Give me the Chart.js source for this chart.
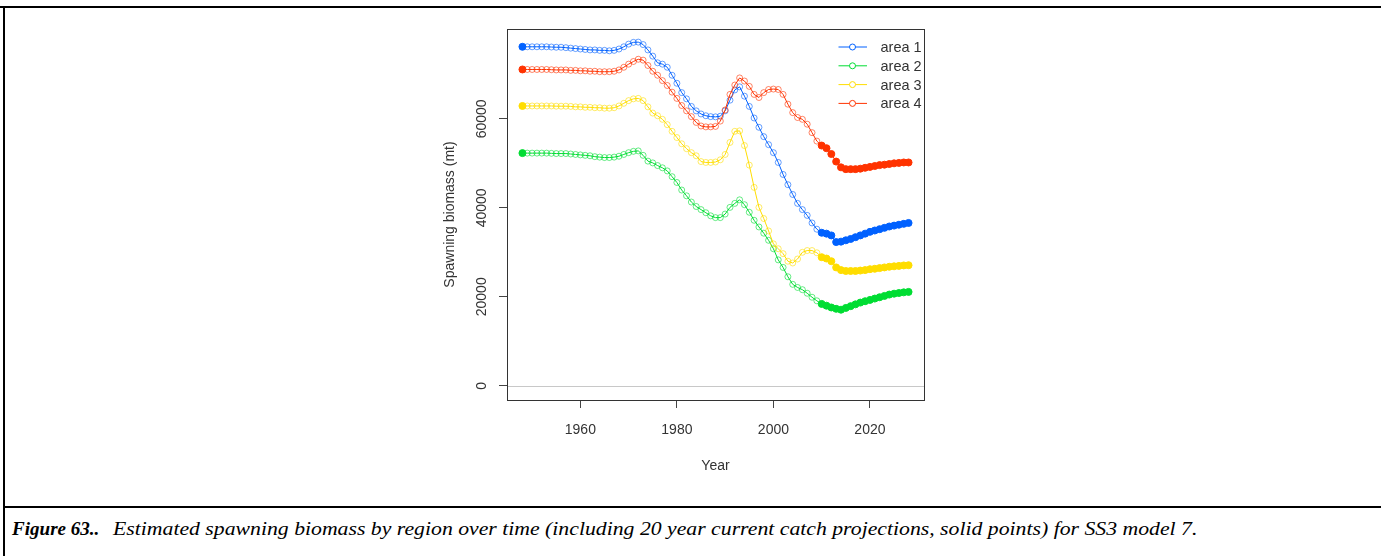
<!DOCTYPE html>
<html>
<head>
<meta charset="utf-8">
<script src="https://cdn.jsdelivr.net/npm/chart.js@4.4.1/dist/chart.umd.min.js"></script>
<style>
  body { margin: 0; background: #fff; width: 1381px; height: 556px; position: relative; overflow: hidden; }
  .line-top { position: absolute; left: 0; top: 6px; width: 1381px; height: 2px; background: #000; }
  .line-left { position: absolute; left: 3px; top: 6px; width: 2px; height: 550px; background: #000; }
  .line-mid { position: absolute; left: 3px; top: 506px; width: 1378px; height: 2px; background: #000; }
  #box { position: absolute; left: 420px; top: 15px; width: 530px; height: 470px; }
  .caption { position: absolute; left: 12px; top: 519px; font-family: "Liberation Serif", "Times New Roman", serif;
    font-style: italic; font-size: 18.5px; white-space: nowrap; color: #000; }
  .caption b { display: inline-block; transform: scaleX(1.03); transform-origin: left center; }
  .caption span { display: inline-block; margin-left: 16px; transform: scaleX(1.175); transform-origin: left center; }
</style>
</head>
<body>
<div class="line-top"></div>
<div class="line-left"></div>
<div class="line-mid"></div>
<div id="box"><canvas id="myChart" width="530" height="470"></canvas></div>
<div class="caption"><b>Figure 63..</b><span>Estimated spawning biomass by region over time (including 20 year current catch projections, solid points) for SS3 model 7.</span></div>
<script>
const firstYear = 1948;
const lastYear = 2028;
const projStart = 2010; // solid points from here on
const years = Array.from({ length: lastYear - firstYear + 1 }, (_, i) => firstYear + i);

// 1948 ... 2028
const area1 = [
  76200, 76200, 76200, 76200, 76200, 76200, 76150, 76100, 76100, 76000,
  75900, 75800, 75700, 75600, 75500, 75500, 75400, 75400, 75300, 75400,
  75700, 76200, 76800, 77200, 77250, 76700, 75500, 74100, 72600, 72300,
  71600, 69800, 68000, 65900, 64500, 62800, 61800, 61100, 60700, 60500,
  60450, 60600, 61800, 64200, 66500, 67200, 65100, 62800, 60200, 58100,
  56000, 54200, 52400, 50200, 47500, 45200, 43000, 41000, 39600, 38300,
  36600, 35200, 34400, 34200, 33800, 32300, 32400, 32700, 33000, 33400,
  33800, 34200, 34600, 34900, 35200, 35500, 35800, 36000, 36200, 36400,
  36600
];
const area2 = [
  52300, 52300, 52300, 52300, 52300, 52300, 52250, 52200, 52200, 52200,
  52100, 52000, 51900, 51800, 51700, 51500, 51400, 51300, 51300, 51400,
  51600, 52000, 52400, 52700, 52800, 51800, 50500, 50100, 49500, 49000,
  48300, 47000, 45700, 44000, 42700, 41300, 40300, 39600, 38900, 38200,
  37800, 37800, 38600, 40100, 41000, 41800, 40700, 39000, 37200, 35700,
  34300, 32700, 30800, 28300, 26600, 24500, 22800, 22100, 21600, 20800,
  19900, 19100, 18400, 18000, 17600, 17300, 17100, 17500, 17900, 18300,
  18700, 19000, 19300, 19600, 19900, 20200, 20500, 20700, 20850, 21000,
  21100
];
const area3 = [
  62900, 62900, 62900, 62900, 62900, 62900, 62900, 62850, 62850, 62850,
  62800, 62700, 62700, 62600, 62600, 62500, 62500, 62400, 62400, 62500,
  62900, 63500, 64100, 64500, 64600, 64100, 62700, 61300, 60700, 59900,
  58700, 57200, 55800, 54400, 53300, 52400, 51700, 50400, 50200, 50200,
  50300, 50800, 52000, 54700, 57200, 57300, 54000, 49600, 44600, 40100,
  37600, 34800, 31900, 30800, 29700, 28000, 27600, 28500, 30000, 30400,
  30400, 29900, 28900, 28600, 28000, 26600, 26000, 25800, 25800, 25800,
  25900, 26000, 26200, 26300, 26450, 26600, 26750, 26850, 26950, 27050,
  27100
];
const area4 = [
  71100, 71100, 71100, 71100, 71100, 71100, 71050, 71000, 71000, 71000,
  70900, 70900, 70800, 70800, 70700, 70700, 70600, 70600, 70600, 70700,
  71000, 71600, 72300, 72900, 73400, 73200, 72000, 70700, 69800, 68600,
  67500, 66000, 64600, 63000, 61800, 60500, 59200, 58400, 58200, 58200,
  58300, 59500, 62000, 65500, 67600, 69200, 68500, 67300, 65500, 64800,
  65900, 66600, 66700, 66600, 65500, 63300, 61400, 60300, 59900, 58800,
  56900, 55000, 54000, 53400, 52100, 50400, 49100, 48700, 48700, 48700,
  48800, 49000, 49200, 49400, 49600, 49700, 49850, 50000, 50100, 50200,
  50200
];

const seriesNames = ["area 1", "area 2", "area 3", "area 4"];
const seriesColors = ["#0061ff", "#00dd33", "#ffdd00", "#ff3300"];
const xTicks = [1960, 1980, 2000, 2020];
const yTicks = [0, 20000, 40000, 60000];

function esSolido(y) {
  return y === firstYear || y >= projStart;
}

function crearSerie(nombre, valores, color, orden) {
  return {
    label: nombre,
    data: years.map((y, i) => ({ x: y, y: valores[i] })),
    borderColor: color,
    borderWidth: 1,
    tension: 0,
    order: orden,
    pointStyle: "circle",
    pointRadius: years.map((y) => (esSolido(y) ? 3.5 : 3)),
    pointBorderWidth: 1,
    pointBackgroundColor: years.map((y) => (esSolido(y) ? color : "rgba(255,255,255,0)")),
    pointBorderColor: years.map((y) => (esSolido(y) ? color : color + "99")),
  };
}

const datasets = [
  crearSerie(seriesNames[0], area1, seriesColors[0], 3),
  crearSerie(seriesNames[1], area2, seriesColors[1], 2),
  crearSerie(seriesNames[2], area3, seriesColors[2], 1),
  crearSerie(seriesNames[3], area4, seriesColors[3], 0),
];

const fuente = '"Liberation Sans", Arial, sans-serif';

// R-style box, zero line, rotated y labels, titles and legend
const estiloR = {
  id: "estiloR",
  beforeDatasetsDraw(chart) {
    const { ctx, chartArea: a, scales } = chart;
    const y0 = Math.round(scales.y.getPixelForValue(0)) + 0.5;
    ctx.save();
    ctx.strokeStyle = "#c8c8c8";
    ctx.lineWidth = 1;
    ctx.beginPath();
    ctx.moveTo(a.left, y0);
    ctx.lineTo(a.right, y0);
    ctx.stroke();
    ctx.restore();
  },
  afterDraw(chart) {
    const { ctx, chartArea: a, scales } = chart;
    ctx.save();
    ctx.strokeStyle = "#333";
    ctx.lineWidth = 1;
    ctx.strokeRect(Math.round(a.left) + 0.5, Math.round(a.top) + 0.5,
      Math.round(a.right - a.left), Math.round(a.bottom - a.top));

    ctx.fillStyle = "#333";
    ctx.font = "14px " + fuente;
    ctx.textAlign = "center";
    ctx.textBaseline = "middle";
    scales.y.ticks.forEach((t) => {
      const py = scales.y.getPixelForValue(t.value);
      ctx.save();
      ctx.translate(a.left - 25, py);
      ctx.rotate(-Math.PI / 2);
      ctx.fillText(String(t.value), 0, 0);
      ctx.restore();
    });

    ctx.save();
    ctx.translate(30, (a.top + a.bottom) / 2);
    ctx.rotate(-Math.PI / 2);
    ctx.fillText("Spawning biomass (mt)", 0, 0);
    ctx.restore();

    ctx.fillText("Year", (a.left + a.right) / 2, 451);

    // legend
    ctx.textAlign = "left";
    ctx.font = "14.5px " + fuente;
    chart.data.datasets.forEach((ds, i) => {
      const ly = 32 + i * 18.8;
      const x1 = a.right - 85.5;
      ctx.strokeStyle = ds.borderColor;
      ctx.lineWidth = 1;
      ctx.beginPath();
      ctx.moveTo(x1, ly);
      ctx.lineTo(x1 + 28.5, ly);
      ctx.stroke();
      ctx.beginPath();
      ctx.arc(x1 + 14, ly, 3, 0, Math.PI * 2);
      ctx.fillStyle = "#fff";
      ctx.fill();
      ctx.stroke();
      ctx.fillStyle = "#333";
      ctx.fillText(ds.label, x1 + 42, ly + 1);
    });
    ctx.restore();
  },
};

const config = {
  type: "line",
  data: { datasets },
  options: {
    responsive: false,
    animation: false,
    layout: { padding: { top: 14, right: 26, left: 0, bottom: 0 } },
    plugins: { legend: { display: false }, tooltip: { enabled: false } },
    scales: {
      x: {
        type: "linear",
        min: 1944.8,
        max: 2031.2,
        afterBuildTicks: (s) => { s.ticks = xTicks.map((v) => ({ value: v })); },
        afterFit: (s) => { s.height = 85; },
        border: { display: false },
        grid: { drawOnChartArea: false, drawTicks: true, tickLength: 8, color: "#444" },
        ticks: {
          autoSkip: false, maxRotation: 0, padding: 14, color: "#333",
          font: { family: fuente, size: 14 },
          callback: (v) => String(v),
        },
      },
      y: {
        type: "linear",
        min: -3200,
        max: 80200,
        afterBuildTicks: (s) => { s.ticks = yTicks.map((v) => ({ value: v })); },
        afterFit: (s) => { s.width = 87; },
        border: { display: false },
        grid: { drawOnChartArea: false, drawTicks: true, tickLength: 8, color: "#444" },
        ticks: { display: false },
      },
    },
  },
  plugins: [estiloR],
};

const myChart = document.getElementById("myChart");
const grafico = new Chart(myChart, config);
</script>
</body>
</html>
